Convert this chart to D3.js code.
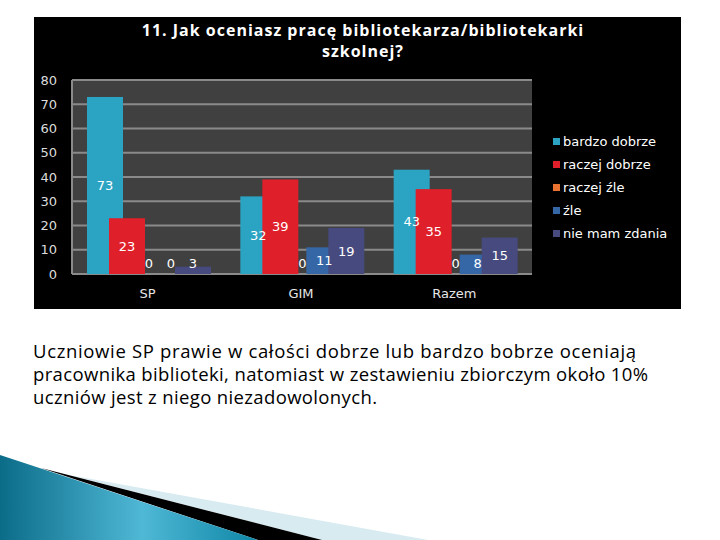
<!DOCTYPE html>
<html lang="pl">
<head>
<meta charset="UTF-8">
<title>11. Jak oceniasz pracę bibliotekarza/bibliotekarki szkolnej?</title>
<script src="https://d3js.org/d3.v7.min.js"></script>
<style>
    body { margin: 0; background: #ffffff; }
    svg { display: block; }
</style>
</head>
<body>
<svg id="main-svg" width="720" height="540"></svg>
<script>
    // data
    const categories = ["SP", "GIM", "Razem"];
    const seriesNames = ["bardzo dobrze", "raczej dobrze", "raczej źle", "źle", "nie mam zdania"];
    const bardzoDobrze = [73, 32, 43];
    const raczejDobrze = [23, 39, 35];
    const raczejZle = [0, 0, 0];
    const zle = [0, 11, 8];
    const nieMamZdania = [3, 19, 15];
    const yTicks = [0, 10, 20, 30, 40, 50, 60, 70, 80];
    const titleLines = ["11. Jak oceniasz pracę bibliotekarza/bibliotekarki", "szkolnej?"];
    const noteLines = [
        "Uczniowie SP prawie w całości dobrze lub bardzo bobrze oceniają",
        "pracownika biblioteki, natomiast w zestawieniu zbiorczym około 10%",
        "uczniów jest z niego niezadowolonych."
    ];
    const noteWidths = [603, 615, 344];

    const seriesValues = [bardzoDobrze, raczejDobrze, raczejZle, zle, nieMamZdania];
    const colors = ["#2ba3c3", "#df1f2a", "#e8732e", "#3567a7", "#474a7e"];

    const svg = d3.select("#main-svg");

    // bottom swoosh decoration
    const defs = svg.append("defs");
    const grad = defs.append("linearGradient").attr("id", "teal")
        .attr("x1", "0").attr("y1", "0").attr("x2", "1").attr("y2", "0");
    grad.append("stop").attr("offset", "0%").attr("stop-color", "#0b6c88");
    grad.append("stop").attr("offset", "55%").attr("stop-color", "#4fb8d6");
    grad.append("stop").attr("offset", "100%").attr("stop-color", "#0f86a6");

    svg.append("polygon").attr("points", "69,475 428,540 322,540").attr("fill", "#d7ebf1");
    svg.append("polygon").attr("points", "41,468 322,540 258,540").attr("fill", "#000");
    svg.append("polygon").attr("points", "0,455 258,540 0,540").attr("fill", "url(#teal)");

    // chart box
    svg.append("rect").attr("x", 34).attr("y", 17).attr("width", 647).attr("height", 292).attr("fill", "#000");

    const plot = { left: 72, right: 532, top: 80, bottom: 274 };

    const x = d3.scaleBand().domain(categories).range([plot.left, plot.right]).padding(0);
    const xInner = d3.scaleBand().domain(seriesNames).range([15, 125]).padding(0);
    const barW = 36;
    const y = d3.scaleLinear().domain([0, 80]).range([plot.bottom, plot.top]);

    svg.append("rect").attr("x", plot.left).attr("y", plot.top)
        .attr("width", plot.right - plot.left).attr("height", plot.bottom - plot.top)
        .attr("fill", "#404040");

    svg.append("g").selectAll("line").data(yTicks).enter().append("line")
        .attr("x1", plot.left).attr("x2", plot.right)
        .attr("y1", d => y(d)).attr("y2", d => y(d))
        .attr("stroke", "#8a8a8a").attr("stroke-width", 2);
    svg.append("line").attr("x1", plot.left).attr("x2", plot.left)
        .attr("y1", plot.top).attr("y2", plot.bottom)
        .attr("stroke", "#8a8a8a").attr("stroke-width", 2);

    // y axis labels
    svg.append("g").selectAll("text").data(yTicks).enter().append("text")
        .attr("x", 57).attr("y", d => y(d)).attr("dy", "0.35em")
        .attr("text-anchor", "end")
        .attr("font-family", "DejaVu Sans").attr("font-size", 13)
        .attr("fill", "#dcdcdc").text(d => d);

    // bars
    const barData = [];
    seriesNames.forEach((s, si) => {
        categories.forEach((c, ci) => {
            barData.push({ series: s, cat: c, value: seriesValues[si][ci], color: colors[si] });
        });
    });

    svg.append("g").selectAll("rect").data(barData).enter().append("rect")
        .attr("x", d => x(d.cat) + xInner(d.series))
        .attr("y", d => y(d.value))
        .attr("width", barW)
        .attr("height", d => y(0) - y(d.value))
        .attr("fill", d => d.color);

    svg.append("g").selectAll("text").data(barData).enter().append("text")
        .attr("x", d => x(d.cat) + xInner(d.series) + barW / 2)
        .attr("y", d => Math.min((y(d.value) + y(0)) / 2, y(0) - 11))
        .attr("dy", "0.35em")
        .attr("text-anchor", "middle")
        .attr("font-family", "DejaVu Sans").attr("font-size", 13)
        .attr("fill", "#ffffff").text(d => d.value);

    // category labels
    svg.append("g").selectAll("text").data(categories).enter().append("text")
        .attr("x", d => x(d) + x.bandwidth() / 2 - 1)
        .attr("y", 293).attr("dy", "0.35em")
        .attr("text-anchor", "middle")
        .attr("font-family", "DejaVu Sans").attr("font-size", 13)
        .attr("fill", "#e6e6e6").text(d => d);

    // title
    svg.append("g").selectAll("text").data(titleLines).enter().append("text")
        .attr("x", 363).attr("y", (d, i) => 36 + i * 21)
        .attr("text-anchor", "middle")
        .attr("font-family", "Open Sans").attr("font-weight", "bold").attr("font-size", 16)
        .attr("letter-spacing", 1)
        .attr("fill", "#ffffff").text(d => d);

    // legend
    const legend = svg.append("g").selectAll("g").data(seriesNames).enter().append("g")
        .attr("transform", (d, i) => `translate(553, ${141 + i * 23})`);
    legend.append("rect").attr("x", 0).attr("y", -3).attr("width", 7).attr("height", 7)
        .attr("fill", (d, i) => colors[i]);
    legend.append("text").attr("x", 10).attr("y", 0).attr("dy", "0.35em")
        .attr("font-family", "DejaVu Sans").attr("font-size", 13)
        .attr("fill", "#ffffff").text(d => d);

    // note below the chart
    svg.append("g").selectAll("text").data(noteLines).enter().append("text")
        .attr("x", 33).attr("y", (d, i) => 358 + i * 23)
        .attr("font-family", "Open Sans").attr("font-size", 18.5)
        .attr("textLength", (d, i) => noteWidths[i])
        .attr("lengthAdjust", "spacing")
        .attr("fill", "#000000").text(d => d);
</script>
</body>
</html>
